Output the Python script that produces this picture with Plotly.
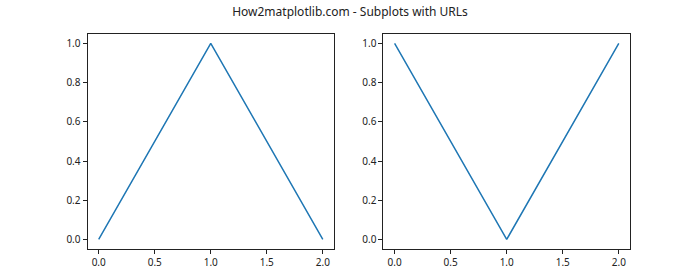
import plotly.graph_objects as go
from plotly.subplots import make_subplots

x_left = [0, 1, 2]
y_left = [0, 1, 0]
x_right = [0, 1, 2]
y_right = [1, 0, 1]
title_text = "How2matplotlib.com - Subplots with URLs"
x_ticks = [0.0, 0.5, 1.0, 1.5, 2.0]
y_ticks = [0.0, 0.2, 0.4, 0.6, 0.8, 1.0]

W, H = 700, 280
fig = make_subplots(rows=1, cols=2)
line = dict(color="#1f77b4", width=1.5)
fig.add_trace(go.Scatter(x=x_left, y=y_left, mode="lines", line=line, showlegend=False), row=1, col=1)
fig.add_trace(go.Scatter(x=x_right, y=y_right, mode="lines", line=line, showlegend=False), row=1, col=2)

axis_common = dict(
    showgrid=False, zeroline=False, showline=True, linecolor="#222", linewidth=1,
    mirror=True, ticks="outside", ticklen=4, tickwidth=1, tickcolor="#222",
    tickfont=dict(family="Noto Sans, DejaVu Sans, sans-serif", size=10, color="#222"),
)
xfmt = dict(axis_common, range=[-0.1, 2.1], tickvals=x_ticks, ticktext=[f"{v:.1f}" for v in x_ticks])
yfmt = dict(axis_common, range=[-0.05, 1.05], tickvals=y_ticks, ticktext=[f"{v:.1f}" for v in y_ticks])

fig.update_layout(
    width=W, height=H,
    margin=dict(l=0, r=0, t=0, b=0),
    paper_bgcolor="white", plot_bgcolor="white",
    xaxis=dict(xfmt, domain=[87.5 / W, 334 / W]),
    xaxis2=dict(xfmt, domain=[383.4 / W, 630 / W]),
    yaxis=dict(yfmt, domain=[1 - 249.2 / H, 1 - 33.6 / H]),
    yaxis2=dict(yfmt, domain=[1 - 249.2 / H, 1 - 33.6 / H]),
    title=dict(text=title_text, x=0.5, xanchor="center", y=1 - 12 / H, yanchor="middle",
               font=dict(family="Noto Sans, DejaVu Sans, sans-serif", size=12, color="#222")),
)
fig.write_html("out.html")
